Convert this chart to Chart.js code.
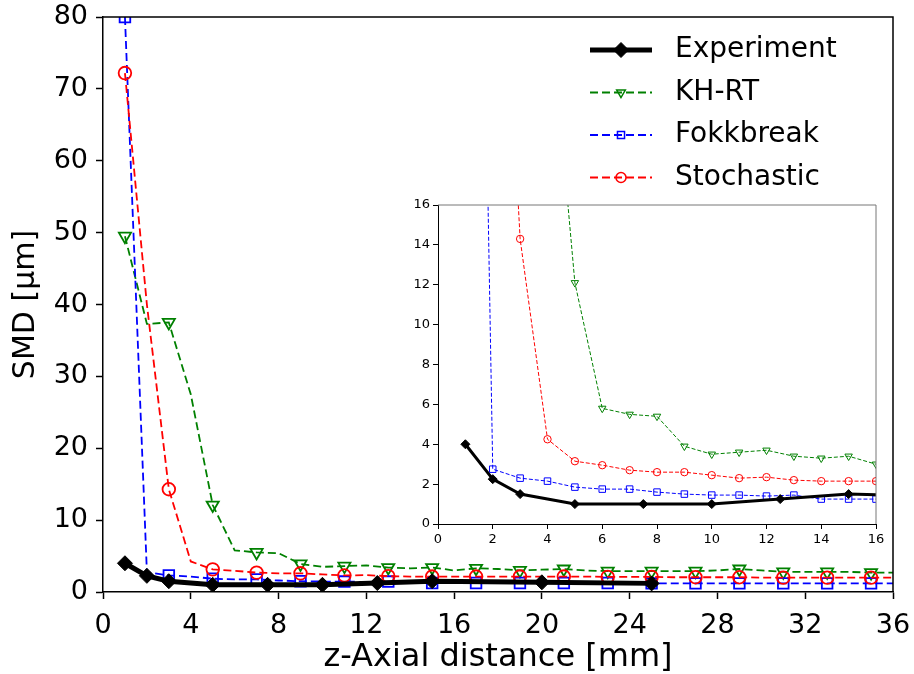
<!DOCTYPE html>
<html>
<head>
<meta charset="utf-8">
<script src="https://cdn.jsdelivr.net/npm/chart.js@4"></script>
<style>
  html, body { margin: 0; padding: 0; background: #fff; }
  #wrap { position: relative; width: 914px; height: 674px; background: #fff; }
  #main { position: absolute; left: 0; top: 0; }
  #insetBox { position: absolute; left: 400px; top: 193px; width: 490px; height: 367px; background: #fff; }
</style>
</head>
<body>
<div id="wrap">
  <canvas id="main" width="914" height="674"></canvas>
  <div id="insetBox"><canvas id="inset" width="490" height="367"></canvas></div>
</div>
<script>
// ---- data ----
const simX = [1,2,3,4,5,6,7,8,9,10,11,12,13,14,15,16,17,18,19,20,21,22,23,24,25,26,27,28,29,30,31,32,33,34,35,36];
const khrt = [49.5,37.3,37.5,27.5,12.1,5.8,5.5,5.4,3.9,3.5,3.6,3.7,3.4,3.3,3.4,3.0,3.3,3.2,3.0,3.1,3.2,3.0,2.9,2.9,2.9,2.9,2.9,3.0,3.2,3.0,2.8,2.8,2.8,2.8,2.7,2.7];
const fokkbreak = [80,2.75,2.3,2.15,1.85,1.75,1.75,1.6,1.5,1.45,1.45,1.4,1.45,1.25,1.25,1.25,1.25,1.25,1.25,1.25,1.25,1.25,1.25,1.2,1.2,1.2,1.2,1.2,1.2,1.2,1.2,1.2,1.2,1.2,1.2,1.2];
const stochastic = [72.2,40,14.3,4.25,3.15,2.95,2.7,2.6,2.6,2.45,2.3,2.35,2.2,2.15,2.15,2.15,2.15,2.15,2.15,2.15,2.15,2.15,2.1,2.1,2.1,2.05,2.05,2.05,2.05,2.0,2.0,2.0,2.0,2.0,2.0,2.0];
const expX = [1,2,3,5,7.5,10,12.5,15,20,25];
const expY = [4.0,2.25,1.5,1.0,1.0,1.0,1.25,1.5,1.35,1.2];
const mainXTicks = [0,4,8,12,16,20,24,28,32,36];
const mainYTicks = [0,10,20,30,40,50,60,70,80];
const insetTicks = [0,2,4,6,8,10,12,14,16];
const seriesNames = ['Experiment','KH-RT','Fokkbreak','Stochastic'];

const FONT = "'DejaVu Sans', 'Liberation Sans', sans-serif";
const GREEN = '#008000', BLUE = '#0000ff', RED = '#ff0000', BLACK = '#000000';

function pts(xs, ys) { return xs.map((x, i) => ({x: x, y: ys[i]})); }

// main plot shows markers on every other point of the simulation curves
function everyOther(r) { return simX.map((x, i) => (i % 2 === 0 ? r : 0)); }

function makeDatasets(isInset) {
  const simW = isInset ? 1 : 1.8;
  const dash = isInset ? [4, 2] : [8, 4];
  return [
    { label: seriesNames[0], data: pts(expX, expY), borderColor: BLACK, backgroundColor: BLACK,
      borderWidth: isInset ? 3 : 5, pointStyle: 'rectRot', pointRadius: isInset ? 4.5 : 7.5,
      pointBackgroundColor: BLACK, pointBorderColor: BLACK, pointBorderWidth: 1, order: 0 },
    { label: seriesNames[1], data: pts(simX, khrt), borderColor: GREEN, backgroundColor: 'rgba(0,0,0,0)',
      borderWidth: simW, borderDash: dash, pointStyle: 'triangle', pointRotation: 180,
      pointRadius: isInset ? 4.3 : everyOther(7), pointBorderColor: GREEN, pointBackgroundColor: 'rgba(0,0,0,0)',
      pointBorderWidth: isInset ? 1 : 1.8, order: 3 },
    { label: seriesNames[2], data: pts(simX, fokkbreak), borderColor: BLUE, backgroundColor: 'rgba(0,0,0,0)',
      borderWidth: simW, borderDash: dash, pointStyle: 'rect',
      pointRadius: isInset ? 4.6 : everyOther(7.5), pointBorderColor: BLUE, pointBackgroundColor: 'rgba(0,0,0,0)',
      pointBorderWidth: isInset ? 1 : 1.8, order: 2 },
    { label: seriesNames[3], data: pts(simX, stochastic), borderColor: RED, backgroundColor: 'rgba(0,0,0,0)',
      borderWidth: simW, borderDash: dash, pointStyle: 'circle',
      pointRadius: isInset ? 3.7 : everyOther(6.3), pointBorderColor: RED, pointBackgroundColor: 'rgba(0,0,0,0)',
      pointBorderWidth: isInset ? 1 : 1.8, order: 1 }
  ];
}

const framePlugin = {
  id: 'frame',
  afterDraw(chart, args, opts) {
    const a = chart.chartArea, ctx = chart.ctx;
    ctx.save();
    ctx.strokeStyle = opts.color || '#000';
    ctx.lineWidth = opts.width || 1.5;
    ctx.beginPath();
    ctx.moveTo(a.left, a.top); ctx.lineTo(a.right, a.top); ctx.lineTo(a.right, a.bottom);
    ctx.stroke();
    ctx.restore();
  }
};

const legendPlugin = {
  id: 'lineLegend',
  afterDraw(chart, args, opts) {
    if (!opts.show) return;
    const ctx = chart.ctx;
    const order = [0, 1, 2, 3];
    ctx.save();
    order.forEach((di, row) => {
      const ds = chart.data.datasets[di];
      const y = opts.top + row * opts.rowH;
      ctx.save();
      ctx.strokeStyle = ds.borderColor;
      ctx.lineWidth = ds.borderWidth;
      ctx.setLineDash(ds.borderDash || []);
      ctx.beginPath();
      ctx.moveTo(opts.x0, y); ctx.lineTo(opts.x1, y);
      ctx.stroke();
      ctx.restore();
      ctx.save();
      ctx.setLineDash([]);
      ctx.strokeStyle = ds.pointBorderColor;
      ctx.fillStyle = ds.pointBackgroundColor;
      ctx.lineWidth = di === 0 ? 1 : 1.5;
      Chart.helpers.drawPoint(ctx, {
        pointStyle: ds.pointStyle, rotation: ds.pointRotation || 0,
        radius: di === 0 ? 7.5 : 5, borderWidth: ctx.lineWidth
      }, (opts.x0 + opts.x1) / 2, y);
      ctx.restore();
      ctx.fillStyle = '#000';
      ctx.font = opts.fontSize + 'px ' + FONT;
      ctx.textBaseline = 'middle';
      ctx.textAlign = 'left';
      ctx.fillText(ds.label, opts.textX, y);
    });
    ctx.restore();
  }
};

function axisCommon(fontSize, tickLen, pad, bw) {
  return {
    ticks: { color: '#000', font: { family: FONT, size: fontSize }, padding: pad, maxRotation: 0, autoSkip: false },
    grid: { drawOnChartArea: false, drawTicks: true, tickLength: tickLen, color: '#000', tickWidth: bw },
    border: { display: true, color: '#000', width: bw }
  };
}

// ---- main chart ----
const mx = axisCommon(27, 7, 11, 1.5);
const my = axisCommon(27, 7, 8, 1.5);
new Chart(document.getElementById('main'), {
  type: 'line',
  data: { datasets: makeDatasets(false) },
  options: {
    responsive: false, animation: false, devicePixelRatio: 1,
    layout: { padding: { left: 0, right: 21, top: 17, bottom: 0 } },
    plugins: {
      legend: { display: false }, tooltip: { enabled: false },
      frame: { color: '#000', width: 1.5 },
      lineLegend: { show: true, x0: 590, x1: 652, textX: 675, top: 50, rowH: 42.5, fontSize: 28 }
    },
    scales: {
      x: Object.assign(mx, {
        type: 'linear', min: 0, max: 36,
        afterBuildTicks(s) { s.ticks = mainXTicks.map(v => ({ value: v })); },
        afterFit(s) { s.height = 82; s.paddingLeft = 0; s.paddingRight = 0; },
        title: { display: true, text: 'z-Axial distance [mm]', color: '#000', font: { family: FONT, size: 32 }, padding: { top: 0, bottom: -3 } }
      }),
      y: Object.assign(my, {
        type: 'linear', min: 0, max: 80,
        afterBuildTicks(s) { s.ticks = mainYTicks.map(v => ({ value: v })); },
        afterFit(s) { s.width = 103; s.paddingTop = 0; s.paddingBottom = 0; },
        title: { display: true, text: 'SMD [μm]', color: '#000', font: { family: FONT, size: 30 }, padding: { top: 8, bottom: 0 } }
      })
    }
  },
  plugins: [framePlugin, legendPlugin]
});

// ---- inset chart ----
const ix = axisCommon(13, 5, 3, 1);
const iy = axisCommon(13, 5, 3, 1);
new Chart(document.getElementById('inset'), {
  type: 'line',
  data: { datasets: makeDatasets(true) },
  options: {
    responsive: false, animation: false, devicePixelRatio: 1,
    layout: { padding: { left: 0, right: 14, top: 12, bottom: 0 } },
    plugins: {
      legend: { display: false }, tooltip: { enabled: false },
      frame: { color: '#777', width: 1 },
      lineLegend: { show: false }
    },
    scales: {
      x: Object.assign(ix, {
        type: 'linear', min: 0, max: 16,
        afterBuildTicks(s) { s.ticks = insetTicks.map(v => ({ value: v })); },
        afterFit(s) { s.height = 36; s.paddingLeft = 0; s.paddingRight = 0; }
      }),
      y: Object.assign(iy, {
        type: 'linear', min: 0, max: 16,
        afterBuildTicks(s) { s.ticks = insetTicks.map(v => ({ value: v })); },
        afterFit(s) { s.width = 38; s.paddingTop = 0; s.paddingBottom = 0; }
      })
    }
  },
  plugins: [framePlugin]
});
</script>
</body>
</html>
